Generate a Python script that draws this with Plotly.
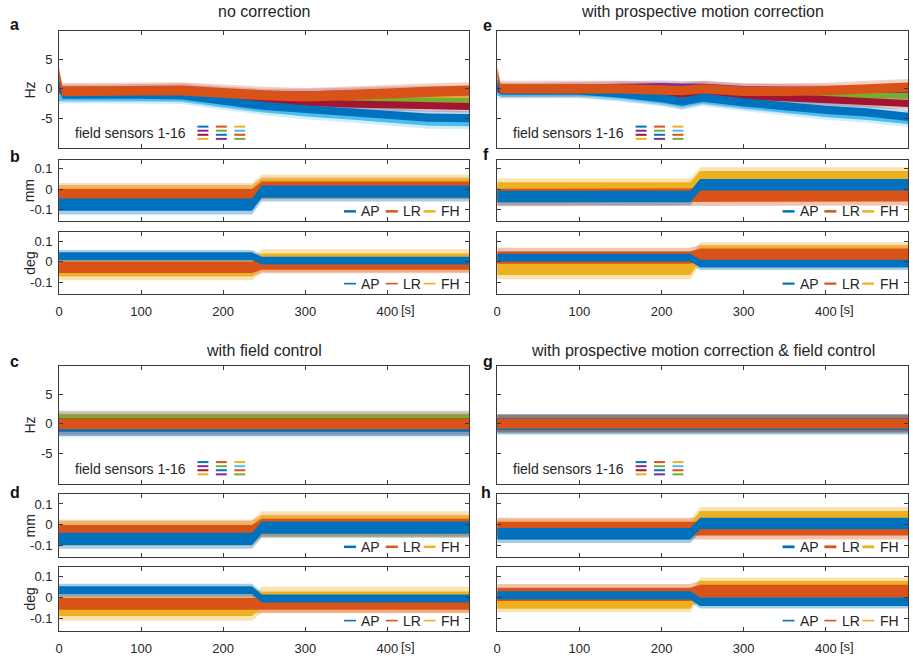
import plotly.graph_objects as go

W, H = 913, 656
FONT = "Liberation Sans, Arial, Helvetica, sans-serif"
TXT = "#262626"
AX = "#3a3a3a"

# MATLAB default colour order
COL = {"blue": "#0072BD", "orange": "#D95319", "yellow": "#EDB120", "purple": "#7E2F8E",
       "green": "#77AC30", "lightblue": "#4DBEEE", "darkred": "#A2142F"}

# ---------------- field sensor data (Hz), centre of each colour group ----------------
T_FIELD = [0, 4, 50, 100, 150, 200, 225, 250, 300, 350, 400, 450, 500]
FIELD_ORDER = ["yellow", "purple", "green", "lightblue", "darkred", "blue", "orange"]

# a: no correction
a_yellow = [0.3, -0.5, -0.5, -0.6, -0.7, -1.1, -1.3, -1.5, -1.7, -1.7, -1.8, -1.8, -1.9]
a_purple = [0.5, -0.3, -0.3, -0.2, -0.1, -0.6, -0.8, -1.0, -1.0, -0.8, -0.6, -0.5, -0.5]
a_green = [0.2, -0.6, -0.7, -0.8, -0.8, -1.2, -1.4, -1.6, -1.8, -1.9, -2.0, -2.0, -2.1]
a_lightblue = [-1.5, -1.3, -1.3, -1.3, -1.4, -2.4, -2.8, -3.3, -4.0, -4.5, -5.0, -5.6, -5.7]
a_darkred = [0.0, -0.7, -0.6, -0.6, -0.6, -1.3, -1.6, -2.0, -2.3, -2.6, -2.7, -2.9, -3.0]
a_blue = [1.0, -1.0, -1.0, -1.0, -1.1, -2.0, -2.5, -2.9, -3.5, -4.0, -4.4, -4.9, -5.0]
a_orange = [2.5, -0.4, -0.4, -0.3, -0.3, -0.7, -0.9, -1.1, -1.3, -1.1, -0.8, -0.5, -0.3]
a_half = [0.55, 0.6, 0.55, 0.7, 0.6, 0.7, 0.85]

# e: with prospective motion correction
e_yellow = [0.2, 0.0, -0.1, 0.0, 0.0, -0.2, -0.4, -0.3, -0.6, -0.8, -0.9, -1.0, -1.1]
e_purple = [0.3, 0.0, 0.0, 0.1, 0.3, 0.4, 0.3, 0.3, -0.1, -0.2, -0.3, -0.4, -0.5]
e_green = [0.0, -0.2, -0.2, -0.1, -0.1, -0.3, -0.5, -0.4, -0.7, -0.9, -1.0, -1.1, -1.2]
e_lightblue = [-0.5, -0.5, -0.5, -0.4, -1.0, -1.8, -2.4, -1.8, -2.6, -3.4, -4.1, -4.6, -5.3]
e_darkred = [0.0, -0.3, -0.2, -0.2, -0.3, -0.6, -0.9, -0.8, -1.2, -1.5, -1.8, -2.2, -2.5]
e_blue = [1.0, -0.3, -0.3, -0.3, -0.8, -1.6, -2.2, -1.5, -2.3, -3.0, -3.6, -4.0, -4.8]
e_orange = [2.8, 0.0, 0.0, 0.0, 0.0, -0.2, -0.3, 0.0, -0.4, -0.4, -0.3, 0.0, 0.3]
e_half = [0.5, 0.6, 0.5, 0.7, 0.6, 0.7, 0.8]

# c / g: with field control (flat over the whole run)
T_FLAT = [0, 500]
c_level = [0.0, 0.2, 0.4, -0.4, -0.2, -0.3, 0.0]
c_half = [1.0, 1.1, 1.1, 1.1, 1.1, 1.0, 0.9]
g_level = [-0.1, 0.1, 0.1, -0.1, 0.0, -0.1, 0.0]
g_half = [0.9, 0.9, 0.9, 1.0, 0.9, 1.0, 0.85]

# ---------------- motion data: mid value at step breakpoints ----------------
T_STEP = [0, 235, 247, 500]
MOTION_ORDER = ["FH", "LR", "AP"]
MOTION_COL = {"AP": "blue", "LR": "orange", "FH": "yellow"}

b_mm_AP = [-0.075, -0.075, -0.012, -0.012]
b_mm_LR = [-0.032, -0.032, 0.005, 0.005]
b_mm_FH = [-0.030, -0.030, 0.012, 0.012]
b_mm_half = {"AP": 0.030, "LR": 0.033, "FH": 0.038}
b_deg_AP = [0.027, 0.027, 0.005, 0.005]
b_deg_LR = [-0.028, -0.028, -0.012, -0.012]
b_deg_FH = [-0.035, -0.035, 0.005, 0.005]
b_deg_half = {"AP": 0.019, "LR": 0.028, "FH": 0.035}

f_mm_AP = [-0.035, -0.035, 0.022, 0.022]
f_mm_LR = [-0.030, -0.030, -0.027, -0.027]
f_mm_FH = [0.005, 0.005, 0.060, 0.060]
f_mm_half = {"AP": 0.028, "LR": 0.033, "FH": 0.030}
f_deg_AP = [0.020, 0.020, -0.010, -0.010]
f_deg_LR = [0.020, 0.020, 0.035, 0.035]
f_deg_FH = [-0.030, -0.030, 0.040, 0.040]
f_deg_half = {"AP": 0.019, "LR": 0.030, "FH": 0.035}

d_mm_AP = [-0.070, -0.070, -0.015, -0.015]
d_mm_LR = [-0.035, -0.035, -0.005, -0.005]
d_mm_FH = [-0.040, -0.040, 0.000, 0.000]
d_mm_half = {"AP": 0.030, "LR": 0.033, "FH": 0.040}
d_deg_AP = [0.035, 0.035, -0.005, -0.005]
d_deg_LR = [-0.030, -0.030, -0.030, -0.030]
d_deg_FH = [-0.050, -0.050, -0.010, -0.010]
d_deg_half = {"AP": 0.019, "LR": 0.028, "FH": 0.038}

h_mm_AP = [-0.045, -0.045, 0.005, 0.005]
h_mm_LR = [-0.020, -0.020, -0.020, -0.020]
h_mm_FH = [-0.025, -0.025, 0.035, 0.035]
h_mm_half = {"AP": 0.028, "LR": 0.033, "FH": 0.031}
h_deg_AP = [0.010, 0.010, -0.020, -0.020]
h_deg_LR = [0.015, 0.015, 0.030, 0.030]
h_deg_FH = [-0.025, -0.025, 0.050, 0.050]
h_deg_half = {"AP": 0.020, "LR": 0.031, "FH": 0.028}

X_TICKS = [0, 100, 200, 300, 400]
X_TICKTEXT = ["0", "100", "200", "300", "400"]
HZ_TICKS = [-5, 0, 5]
HZ_TICKTEXT = ["-5", "0", "5"]
MM_TICKS = [-0.1, 0, 0.1]
MM_TICKTEXT = ["-0.1", "0", "0.1"]

TITLES = ["no correction", "with prospective motion correction",
          "with field control", "with prospective motion correction & field control"]

# ---------------- layout geometry (pixels) ----------------
COLS = [(55.3, 467.5), (495.4, 908.0)]
ROWS = {"top": [(31.5, 148.5), (160.0, 222.0), (232.7, 294.5)],
        "bot": [(367.0, 485.0), (496.0, 558.5), (568.5, 632.5)]}


def hexrgba(h, a):
    h = h.lstrip("#")
    return "rgba(%d,%d,%d,%.2f)" % (int(h[0:2], 16), int(h[2:4], 16), int(h[4:6], 16), a)


def px(x):
    return x / W


def py(y):
    return 1 - y / H


fig = go.Figure()
layout = {}
annotations = []
shapes = []
axis_id = [0]


def new_axes(col, rowpx, yrange, yticks, yticktext, show_x_labels, show_y_labels):
    axis_id[0] += 1
    i = axis_id[0]
    xa = "xaxis" if i == 1 else "xaxis%d" % i
    ya = "yaxis" if i == 1 else "yaxis%d" % i
    common = dict(showgrid=False, zeroline=False, showline=True, linecolor=AX, linewidth=1,
                  mirror="ticks", ticks="inside", ticklen=4, tickcolor=AX,
                  tickfont=dict(family=FONT, size=13, color=TXT), fixedrange=True)
    layout[xa] = dict(common, domain=[px(COLS[col][0]), px(COLS[col][1])], range=[0, 500],
                      anchor="y" if i == 1 else "y%d" % i, tickvals=X_TICKS, ticktext=X_TICKTEXT,
                      showticklabels=show_x_labels, ticklabelstandoff=6)
    layout[ya] = dict(common, domain=[py(rowpx[1]), py(rowpx[0])], range=yrange,
                      anchor="x" if i == 1 else "x%d" % i, tickvals=yticks, ticktext=yticktext,
                      showticklabels=show_y_labels, ticklabelstandoff=3)
    return ("x" if i == 1 else "x%d" % i), ("y" if i == 1 else "y%d" % i)


def add_band(xs, mid, half, color, xr, yr, halo, alpha):
    up = [m + half * halo for m in mid]
    lo = [m - half * halo for m in mid]
    fill = color if alpha >= 1 else hexrgba(color, alpha)
    fig.add_trace(go.Scatter(x=list(xs) + list(xs)[::-1], y=up + lo[::-1], fill="toself",
                             fillcolor=fill, line=dict(width=0), mode="lines",
                             hoverinfo="skip", showlegend=False, xaxis=xr, yaxis=yr))


def field_panel(col, rowpx, xs, series, halves, show_y):
    xr, yr = new_axes(col, rowpx, [-10.1, 9.8], HZ_TICKS, HZ_TICKTEXT, False, show_y)
    for name, mid, half in zip(FIELD_ORDER, series, halves):
        add_band(xs, mid, half, COL[name], xr, yr, 1.7, 0.26)
    for name, mid, half in zip(FIELD_ORDER, series, halves):
        add_band(xs, mid, half, COL[name], xr, yr, 1.0, 1.0)
    # legend "field sensors 1-16"
    L, B = COLS[col][0], rowpx[1]
    annotations.append(dict(text="field sensors 1-16", x=px(L + 14), y=py(B - 15), xref="paper",
                            yref="paper", xanchor="left", yanchor="middle", showarrow=False,
                            font=dict(family=FONT, size=14, color=TXT)))
    swatch = ["blue", "orange", "yellow", "purple", "green", "lightblue",
              "darkred", "blue", "orange", "yellow", "purple", "green"]
    for k, c in enumerate(swatch):
        r, cc = divmod(k, 3)
        x0 = L + 139 + cc * 18.5
        yy = B - 21.5 + r * 4.1
        shapes.append(dict(type="line", xref="paper", yref="paper", x0=px(x0), x1=px(x0 + 11),
                           y0=py(yy), y1=py(yy), line=dict(color=COL[c], width=2)))


def motion_panel(col, rowpx, data, halves, show_x, show_y, sw_width):
    xr, yr = new_axes(col, rowpx, [-0.157, 0.146], MM_TICKS, MM_TICKTEXT, show_x, show_y)
    for name in MOTION_ORDER:
        add_band(T_STEP, data[name], halves[name], COL[MOTION_COL[name]], xr, yr, 1.6, 0.35)
    for name in MOTION_ORDER:
        add_band(T_STEP, data[name], halves[name], COL[MOTION_COL[name]], xr, yr, 1.0, 1.0)
    R, B = COLS[col][1], rowpx[1]
    yy = B - 10
    for name, off in (("AP", 126), ("LR", 84), ("FH", 46)):
        shapes.append(dict(type="line", xref="paper", yref="paper", x0=px(R - off), x1=px(R - off + 12),
                           y0=py(yy), y1=py(yy), line=dict(color=COL[MOTION_COL[name]], width=sw_width)))
        annotations.append(dict(text=name, x=px(R - off + 15.5), y=py(yy), xref="paper", yref="paper",
                                xanchor="left", yanchor="middle", showarrow=False,
                                font=dict(family=FONT, size=14, color=TXT)))
    if show_x:
        annotations.append(dict(text="[s]", x=400, y=0, xref=xr, yref="%s domain" % yr,
                                xanchor="left", yanchor="top", xshift=12, yshift=-6, showarrow=False,
                                font=dict(family=FONT, size=13, color=TXT)))


# top-left: a, b
field_panel(0, ROWS["top"][0], T_FIELD,
            [a_yellow, a_purple, a_green, a_lightblue, a_darkred, a_blue, a_orange], a_half, True)
motion_panel(0, ROWS["top"][1], {"AP": b_mm_AP, "LR": b_mm_LR, "FH": b_mm_FH}, b_mm_half, False, True, 2.5)
motion_panel(0, ROWS["top"][2], {"AP": b_deg_AP, "LR": b_deg_LR, "FH": b_deg_FH}, b_deg_half, True, True, 1.6)
# top-right: e, f
field_panel(1, ROWS["top"][0], T_FIELD,
            [e_yellow, e_purple, e_green, e_lightblue, e_darkred, e_blue, e_orange], e_half, False)
motion_panel(1, ROWS["top"][1], {"AP": f_mm_AP, "LR": f_mm_LR, "FH": f_mm_FH}, f_mm_half, False, False, 2.5)
motion_panel(1, ROWS["top"][2], {"AP": f_deg_AP, "LR": f_deg_LR, "FH": f_deg_FH}, f_deg_half, True, False, 2.2)
# bottom-left: c, d
field_panel(0, ROWS["bot"][0], T_FLAT, [[v, v] for v in c_level], c_half, True)
motion_panel(0, ROWS["bot"][1], {"AP": d_mm_AP, "LR": d_mm_LR, "FH": d_mm_FH}, d_mm_half, False, True, 2.5)
motion_panel(0, ROWS["bot"][2], {"AP": d_deg_AP, "LR": d_deg_LR, "FH": d_deg_FH}, d_deg_half, True, True, 1.6)
# bottom-right: g, h
field_panel(1, ROWS["bot"][0], T_FLAT, [[v, v] for v in g_level], g_half, False)
motion_panel(1, ROWS["bot"][1], {"AP": h_mm_AP, "LR": h_mm_LR, "FH": h_mm_FH}, h_mm_half, False, False, 2.8)
motion_panel(1, ROWS["bot"][2], {"AP": h_deg_AP, "LR": h_deg_LR, "FH": h_deg_FH}, h_deg_half, True, False, 1.6)

# titles
for text, col, y in zip(TITLES, [0, 1, 0, 1], [12, 12, 352, 352]):
    annotations.append(dict(text=text, x=px((COLS[col][0] + COLS[col][1]) / 2), y=py(y),
                            xref="paper", yref="paper", xanchor="center", yanchor="middle",
                            showarrow=False, font=dict(family=FONT, size=16, color=TXT)))
# panel letters
for text, x, y in [("a", 11, 25), ("b", 11, 157), ("c", 11, 363), ("d", 11, 494),
                   ("e", 486, 26), ("f", 484, 155), ("g", 486, 363), ("h", 484, 494)]:
    annotations.append(dict(text="<b>%s</b>" % text, x=px(x), y=py(y), xref="paper", yref="paper",
                            xanchor="center", yanchor="middle", showarrow=False,
                            font=dict(family=FONT, size=16, color="#111")))
# y-axis titles
for block in ("top", "bot"):
    for (t, b), label in zip(ROWS[block], ["Hz", "mm", "deg"]):
        annotations.append(dict(text=label, x=px(26), y=py((t + b) / 2), xref="paper", yref="paper",
                                xanchor="center", yanchor="middle", textangle=-90, showarrow=False,
                                font=dict(family=FONT, size=14, color=TXT)))

fig.update_layout(width=W, height=H, margin=dict(l=0, r=0, t=0, b=0), paper_bgcolor="white",
                  plot_bgcolor="white", showlegend=False, annotations=annotations, shapes=shapes,
                  **layout)
fig.write_html("out.html")
